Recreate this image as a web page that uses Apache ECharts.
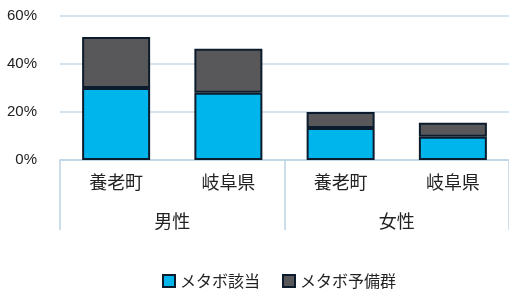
<!DOCTYPE html>
<html>
<head>
<meta charset="utf-8">
<script src="https://cdn.jsdelivr.net/npm/echarts@6/dist/echarts.min.js"></script>
<style>
    html, body { margin: 0; padding: 0; background: #fff; }
    #chart { width: 509px; height: 290px; }
</style>
</head>
<body>
<div id="chart"></div>
<script>
var areas = ['養老町', '岐阜県', '養老町', '岐阜県'];
var groups = ['男性', '女性'];
var metaboValues = [30, 28, 13.3, 9.7];
var reserveValues = [21.2, 18.4, 6.7, 5.8];
var seriesNames = ['メタボ該当', 'メタボ予備群'];
var yTicks = [0, 20, 40, 60];

var chartDom = document.getElementById('chart');
var myChart = echarts.init(chartDom);
var option;

var cjkFont = '"Noto Sans CJK JP", sans-serif';

option = {
    animation: false,
    grid: {
        left: 60,
        top: 16,
        width: 454,
        height: 144
    },
    legend: {
        data: seriesNames,
        left: 157,
        top: 268,
        icon: 'rect',
        itemWidth: 12,
        itemHeight: 12,
        itemGap: 22,
        textStyle: { fontFamily: cjkFont, fontSize: 16, color: '#222' }
    },
    xAxis: [{
        type: 'category',
        data: areas,
        axisLine: { lineStyle: { color: '#bcd3e3', width: 1.5 } },
        axisTick: { show: false },
        axisLabel: { margin: 13, fontFamily: cjkFont, fontSize: 18, color: '#222' }
    },
    {
        type: 'category',
        data: groups,
        position: 'bottom',
        axisLine: { show: false },
        axisTick: {
            show: true,
            length: 70,
            interval: 0,
            lineStyle: { color: '#bcd3e3', width: 1.5 }
        },
        axisLabel: { margin: 52, fontFamily: cjkFont, fontSize: 18, color: '#222' }
    }],
    yAxis: {
        type: 'value',
        min: yTicks[0],
        max: yTicks[yTicks.length - 1],
        interval: 20,
        axisLine: { show: false },
        axisTick: { show: false },
        splitLine: { lineStyle: { color: '#c6dbe9', width: 1.5 } },
        axisLabel: {
            formatter: '{value}%',
            margin: 23,
            fontFamily: '"Liberation Sans", Arial, sans-serif',
            fontSize: 15,
            color: '#222'
        }
    },
    series: [{
        name: seriesNames[0],
        type: 'bar',
        stack: 'total',
        data: metaboValues,
        barWidth: 68,
        itemStyle: { color: '#00b4ec', borderColor: '#0c1c2c', borderWidth: 2 }
    },
    {
        name: seriesNames[1],
        type: 'bar',
        stack: 'total',
        data: reserveValues,
        barWidth: 68,
        itemStyle: { color: '#58585a', borderColor: '#0c1c2c', borderWidth: 2 }
    }]
};

myChart.setOption(option);
</script>
</body>
</html>
